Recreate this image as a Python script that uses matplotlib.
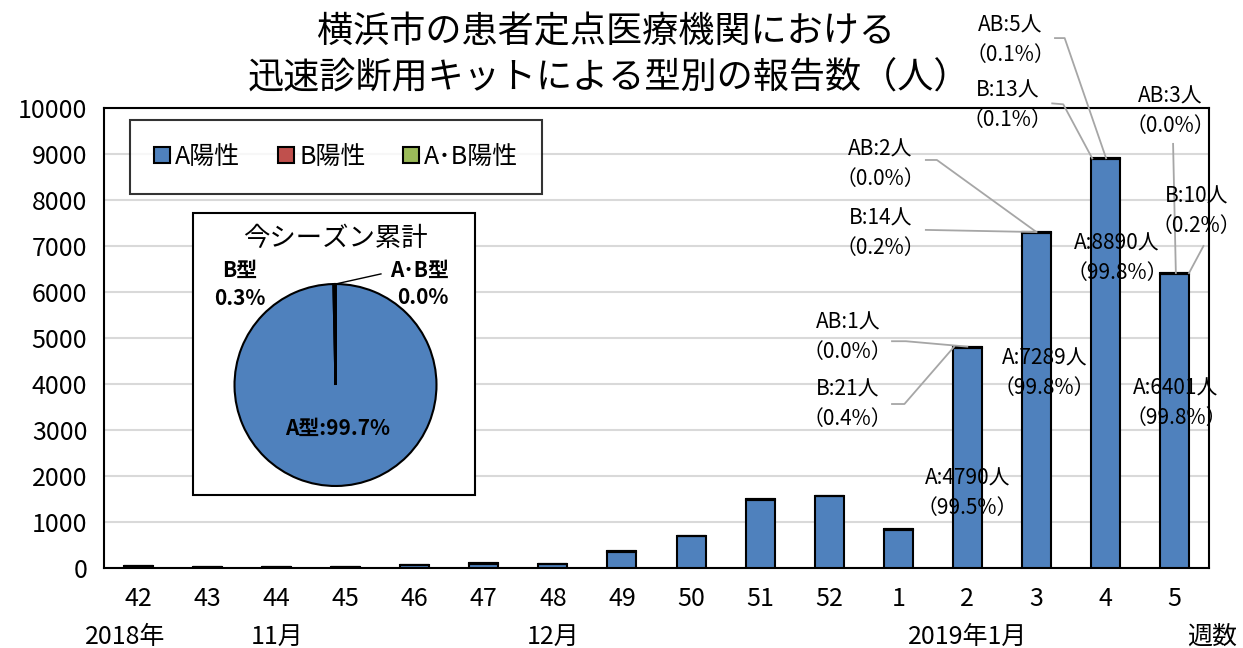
import matplotlib
matplotlib.use("Agg")
import matplotlib.pyplot as plt
from matplotlib.patches import Rectangle
import numpy as np

plt.rcParams['font.family'] = ['Noto Sans CJK JP', 'DejaVu Sans']

# data
weeks = ['42', '43', '44', '45', '46', '47', '48', '49', '50', '51', '52', '1', '2', '3', '4', '5']
a_pos = [38, 19, 29, 14, 68, 97, 78, 356, 685, 1482, 1563, 836, 4790, 7289, 8890, 6401]
b_pos = [2, 1, 1, 1, 2, 3, 2, 4, 5, 8, 7, 4, 21, 14, 13, 10]
ab_pos = [0, 0, 0, 0, 0, 0, 0, 0, 0, 0, 0, 0, 1, 2, 5, 3]
month_labels = {0: '2018年', 2: '11月', 6: '12月', 12: '2019年1月'}

# which weeks get labels, and where the label blocks sit (data coords)
labelled = [12, 13, 14, 15]
ab_text_pos = {12: (10.27, 5010), 13: (10.74, 8783), 14: (12.62, 11478), 15: (14.94, 9935)}
b_text_pos = {12: (10.27, 3565), 13: (10.74, 7283), 14: (12.58, 10065), 15: (15.32, 7761)}
a_text_pos = {12: (12.0, 1630), 13: (13.12, 4239), 14: (14.17, 6739), 15: (15.02, 3587)}

c_a, c_b, c_ab = '#4F81BD', '#C0504D', '#9BBB59'
grey = '#A6A6A6'

fig = plt.figure(figsize=(12.43, 6.48), dpi=100)
ax = fig.add_axes([104 / 1243, 80 / 648, 1105 / 1243, 460 / 648])

x = np.arange(len(weeks))
a = np.array(a_pos)
b = np.array(b_pos)
ab = np.array(ab_pos)
w = 0.42
ax.bar(x, a, w, color=c_a, edgecolor='black', linewidth=1.5, label='A陽性', zorder=3)
ax.bar(x, b, w, bottom=a, color=c_b, edgecolor='black', linewidth=1.5, label='B陽性', zorder=3)
ax.bar(x, ab, w, bottom=a + b, color=c_ab, edgecolor='black', linewidth=1.5, label='A･B陽性', zorder=3)

ax.set_xlim(-0.5, len(weeks) - 0.5)
ax.set_ylim(0, 10000)
ax.set_yticks(np.arange(0, 10001, 1000))
ax.tick_params(axis='y', labelsize=18, length=0, pad=12)
ax.set_xticks(x)
ax.set_xticklabels(weeks)
ax.tick_params(axis='x', labelsize=18, length=0, pad=13)
ax.grid(axis='y', color='#D9D9D9', linewidth=1.5, zorder=0)
for s in ax.spines.values():
    s.set_linewidth(1.5)
    s.set_color('black')

for i, txt in month_labels.items():
    ax.text(i - 0.2 if i == 0 else i, -1500, txt, ha='center', va='center', fontsize=18)
ax.text(len(weeks) - 0.45, -1500, '週数', ha='center', va='center', fontsize=18)

total = a + b + ab
fs = 15
for i in labelled:
    t = total[i]
    tx, ty = ab_text_pos[i]
    ax.text(tx, ty, f'AB:{ab[i]}人\n（{ab[i] / t * 100:.1f}%）', ha='center', va='center',
            fontsize=fs, linespacing=1.45)
    tx, ty = b_text_pos[i]
    ax.text(tx, ty, f'B:{b[i]}人\n（{b[i] / t * 100:.1f}%）', ha='center', va='center',
            fontsize=fs, linespacing=1.45, zorder=5)
    tx, ty = a_text_pos[i]
    ax.text(tx, ty, f'A:{a[i]}人\n（{a[i] / t * 100:.1f}%）', ha='center', va='center',
            fontsize=fs, linespacing=1.45, zorder=5)

# leader lines (start points near labels, end at bar tops)
def leader(pts, end):
    xs = [p[0] for p in pts] + [end[0]]
    ys = [p[1] for p in pts] + [end[1]]
    ax.plot(xs, ys, color=grey, linewidth=1.3, zorder=4, clip_on=False)

leader([(10.91, 4930), (11.11, 4930)], (12.0, total[12]))
leader([(10.91, 3565), (11.09, 3565)], (12 - w / 2 + 0.02, a[12] + b[12]))
leader([(11.40, 8870), (11.56, 8870)], (13.0, total[13]))
leader([(11.40, 7350)], (13.0, a[13] + b[13]))
leader([(13.27, 11520), (13.41, 11520)], (14.01, total[14]))
leader([(13.23, 10100), (13.39, 10080)], (14 - w / 2 + 0.02, a[14] + b[14]))
leader([(14.98, 9220)], (15.02, total[15]))
leader([(15.42, 7000)], (15 + w / 2, a[15] + b[15]))

leg = ax.legend(loc='upper left', bbox_to_anchor=(130 / 1243, 1 - 120 / 648),
                bbox_transform=fig.transFigure, ncol=3, fontsize=18, frameon=True,
                fancybox=False, edgecolor='black', handlelength=0.65, handleheight=0.65,
                handletextpad=0.2, columnspacing=1.5, borderpad=0.95, borderaxespad=0)
leg.get_frame().set_linewidth(1.5)
leg.set_zorder(6)

fig.text(606 / 1243, 1 - 32 / 648, '横浜市の患者定点医療機関における', ha='center', va='center', fontsize=26)
fig.text(609 / 1243, 1 - 78 / 648, '迅速診断用キットによる型別の報告数（人）', ha='center', va='center', fontsize=26)

# inset pie
box = Rectangle((193 / 1243, 1 - 495 / 648), 282 / 1243, 282 / 648, transform=fig.transFigure,
                facecolor='white', edgecolor='black', linewidth=1.5, zorder=7)
fig.add_artist(box)
pax = fig.add_axes([232.5 / 1243, 1 - 488 / 648, 206 / 1243, 206 / 648], zorder=8)
season = [a.sum(), b.sum(), ab.sum()]
pax.pie(season, colors=[c_a, c_b, c_ab], startangle=90, counterclock=False,
        wedgeprops=dict(edgecolor='black', linewidth=1.5))
pax.set_xlim(-1.02, 1.02)
pax.set_ylim(-1.02, 1.02)
pct = [v / sum(season) * 100 for v in season]
fig.text(335 / 1243, 1 - 238 / 648, '今シーズン累計', ha='center', va='center', fontsize=19, zorder=9)
fig.text(240 / 1243, 1 - 270 / 648, 'B型', ha='center', va='center', fontsize=15, fontweight='bold', zorder=9)
fig.text(240 / 1243, 1 - 299 / 648, f'{pct[1]:.1f}%', ha='center', va='center', fontsize=15, fontweight='bold', zorder=9)
fig.text(420 / 1243, 1 - 270 / 648, 'A･B型', ha='center', va='center', fontsize=15, fontweight='bold', zorder=9)
fig.text(423 / 1243, 1 - 298 / 648, f'{pct[2]:.1f}%', ha='center', va='center', fontsize=15, fontweight='bold', zorder=9)
fig.text(338 / 1243, 1 - 428 / 648, f'A型:{pct[0]:.1f}%', ha='center', va='center', fontsize=15, fontweight='bold', zorder=9)
pax.plot([0.0, 0.45], [1.0, 1.1], color='black', linewidth=1, clip_on=False)

fig.savefig('out.png', dpi=100)
